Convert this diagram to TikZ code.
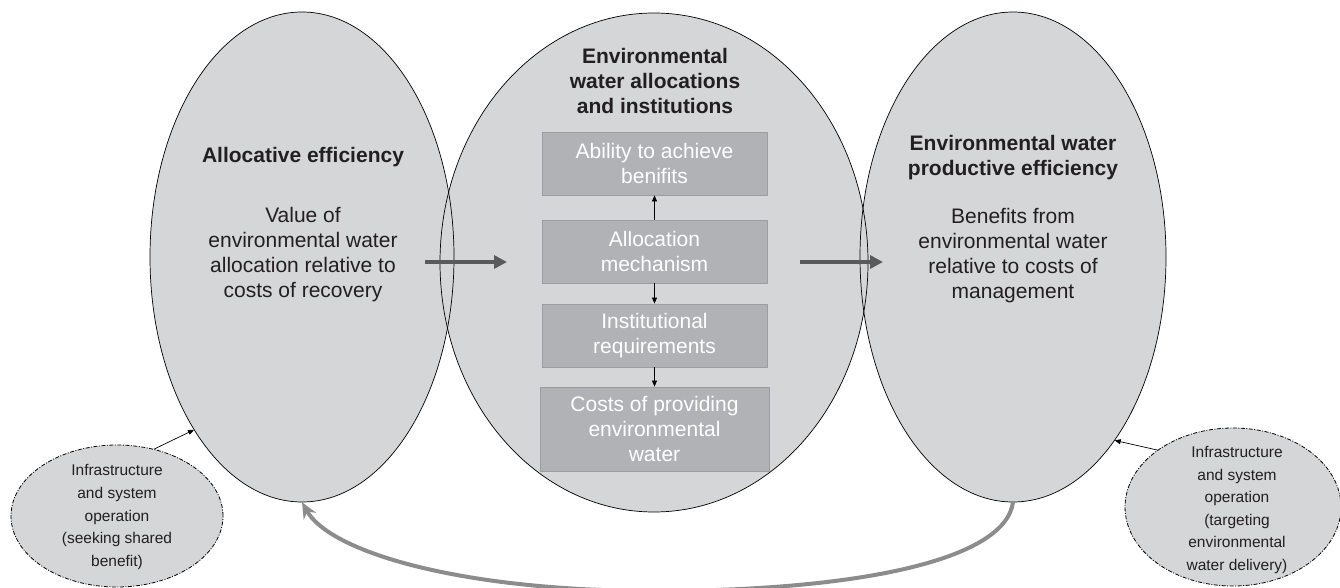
\documentclass[tikz,border=0pt]{standalone}
\usepackage{fontspec}
\setmainfont{Liberation Sans}
\usetikzlibrary{shapes.geometric,arrows.meta}
\definecolor{ellfill}{HTML}{D5D6D8}
\definecolor{boxfill}{HTML}{B1B2B5}
\definecolor{boxline}{HTML}{9C9DA0}
\definecolor{inkc}{HTML}{231F20}
\definecolor{thickarr}{HTML}{5A5A5A}
\definecolor{curvearr}{HTML}{8C8C8C}
\tikzset{
  bigell/.style={ellipse, fill=ellfill, inner sep=0pt},
  outl/.style={draw=black, line width=0.7pt},
  smallell/.style={ellipse, fill=ellfill, draw=black, line width=0.8pt, inner sep=0pt,
    dash pattern=on 4pt off 1.5pt on 1pt off 1.5pt},
  bigtxt/.style={align=center, text=inkc, font=\fontsize{21}{25}\selectfont},
  boldtxt/.style={bigtxt, font=\fontsize{21}{25}\selectfont\bfseries},
  smalltxt/.style={align=center, text=inkc, font=\fontsize{15.5}{22.6}\selectfont},
  mbox/.style={rectangle, fill=boxfill, draw=boxline, line width=0.8pt, minimum width=225pt,
    minimum height=63pt, inner sep=0pt, align=center, text=white, font=\fontsize{21}{25}\selectfont},
  boxarrow/.style={draw=black, line width=0.7pt, -{Triangle[length=6pt,width=5pt]}},
  fatarrow/.style={draw=thickarr, line width=4pt, -{Triangle[length=13pt,width=13pt]}},
  loopback/.style={draw=curvearr, line width=4pt, -{Stealth[length=16pt,width=14pt]}},
}
\begin{document}
\begin{tikzpicture}[x=1pt,y=-1pt]
\useasboundingbox (0,0) rectangle (1340,588);
% big ellipses (fill)
\node[bigell, minimum width=428pt, minimum height=499pt] (M) at (654,262.5) {};
\node[bigell, minimum width=304pt, minimum height=490pt] (L) at (302,257) {};
\node[bigell, minimum width=306pt, minimum height=490pt] (R) at (1013,257) {};
% outlines
\draw[outl] (M.center) ellipse [x radius=214, y radius=249.5];
\draw[outl] (L.center) ellipse [x radius=152, y radius=245];
\draw[outl] (R.center) ellipse [x radius=153, y radius=245];
% texts
\node[boldtxt] (Lt) at (303,157) {Allocative efficiency};
\node[bigtxt] (Lb) at (303,255) {Value of\\environmental water\\allocation relative to\\costs of recovery};
\node[boldtxt] (Mt) at (655,80.5) {Environmental\\water allocations\\and institutions};
\node[boldtxt] (Rt) at (1013,157.5) {Environmental water\\productive efficiency};
\node[bigtxt] (Rb) at (1013,255.5) {Benefits from\\environmental water\\relative to costs of\\management};
% boxes
\node[mbox] (B1) at (654.5,163.5) {Ability to achieve\\benifits};
\node[mbox] (B2) at (654.5,251.5) {Allocation\\mechanism};
\node[mbox] (B3) at (654.5,335.5) {Institutional\\requirements};
\node[mbox, minimum width=229pt, minimum height=84pt] (B4) at (654.5,429) {Costs of providing\\environmental\\water};
\draw[boxarrow] (B2.north) -- (B1.south);
\draw[boxarrow] (B2.south) -- (B3.north);
\draw[boxarrow] (B3.south) -- (B4.north);
% thick arrows
\coordinate (a1s) at (425,262);
\coordinate (a1e) at (507,262);
\coordinate (a2s) at (800,262);
\coordinate (a2e) at (883,262);
\draw[fatarrow] (a1s) -- (a1e);
\draw[fatarrow] (a2s) -- (a2e);
% small ellipses
\node[smallell, minimum width=212pt, minimum height=142pt] (SL) at (117,516) {};
\node[smalltxt] (SLt) at (117,517) {Infrastructure\\and system\\operation\\(seeking shared\\benefit)};
\node[smallell, minimum width=216pt, minimum height=158pt] (SR) at (1233,507) {};
\node[smalltxt] (SRt) at (1237,510) {Infrastructure\\and system\\operation\\(targeting\\environmental\\water delivery)};
\draw[boxarrow] (SL.61) -- (L.238);
\draw[boxarrow] (SR.143) -- (R.299);
% loop back arrow
\coordinate (low) at (655,591);
\draw[loopback] (R.south) .. controls (1005,562) and (850,591) .. (low)
  .. controls (460,591) and (330,552) .. (L.south);
\end{tikzpicture}
\end{document}
